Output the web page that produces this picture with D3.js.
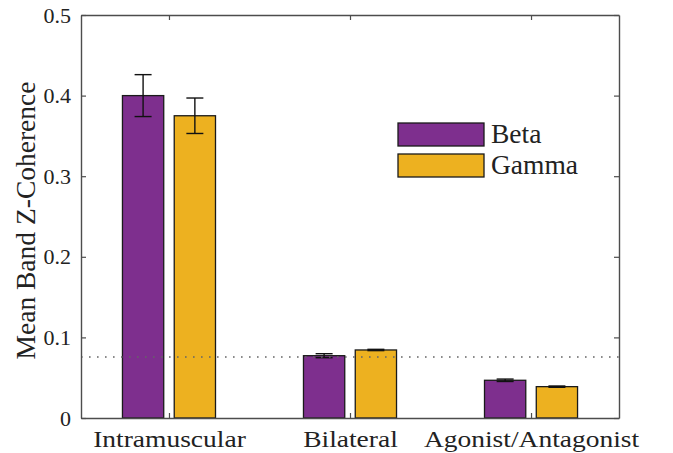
<!DOCTYPE html>
<html>
<head>
<meta charset="utf-8">
<script src="https://cdn.jsdelivr.net/npm/d3@7"></script>
<style>
  html, body { margin: 0; padding: 0; background: #fff; }
  svg { display: block; }
  svg text { font-family: "Liberation Serif", "Times New Roman", serif; }
</style>
</head>
<body>
<svg id="chart" width="673" height="453"></svg>
<script>
// Coherence groups and band series
const categories = ["Intramuscular", "Bilateral", "Agonist/Antagonist"];
const seriesNames = ["Beta", "Gamma"];
const betaValues = [0.400, 0.0773, 0.0468];
const gammaValues = [0.375, 0.0844, 0.0389];
const betaErrors = [0.026, 0.0025, 0.0015];
const gammaErrors = [0.022, 0.0008, 0.0008];
const yTicks = [0, 0.1, 0.2, 0.3, 0.4, 0.5];
const thresholdValue = 0.0757;
const yLabel = "Mean Band Z-Coherence";

(function () {
const colors = { Beta: "#7E2F8E", Gamma: "#EDB120" };
const axisColor = "#4d4d4d";
const textColor = "#222";

const svg = d3.select("#chart");
const plotLeft = 81, plotRight = 619, plotTop = 15, plotBottom = 418;

const x = d3.scalePoint().domain(categories).range([plotLeft, plotRight]).padding(0.486);
const y = d3.scaleLinear().domain([0, 0.5]).range([plotBottom, plotTop]);

const step = x.step();
const barW = 0.228 * step;
const offset = { Beta: -0.143 * step, Gamma: 0.143 * step };

const rows = categories.flatMap((c, i) => [
  { cat: c, series: "Beta", value: betaValues[i], err: betaErrors[i] },
  { cat: c, series: "Gamma", value: gammaValues[i], err: gammaErrors[i] }
]);

// Bars
svg.append("g").selectAll("rect").data(rows).join("rect")
  .attr("x", d => x(d.cat) + offset[d.series] - barW / 2)
  .attr("y", d => y(d.value))
  .attr("width", barW)
  .attr("height", d => y(0) - y(d.value))
  .attr("fill", d => colors[d.series])
  .attr("stroke", "#1a1a1a")
  .attr("stroke-width", 1.3);

// Error bars
const capW = 17;
const eb = svg.append("g").attr("stroke", "#111").attr("stroke-width", 1.4);
rows.forEach(d => {
  const cx = x(d.cat) + offset[d.series];
  const y1 = y(d.value + d.err), y2 = y(d.value - d.err);
  eb.append("line").attr("x1", cx).attr("x2", cx).attr("y1", y1).attr("y2", y2);
  eb.append("line").attr("x1", cx - capW / 2).attr("x2", cx + capW / 2).attr("y1", y1).attr("y2", y1);
  eb.append("line").attr("x1", cx - capW / 2).attr("x2", cx + capW / 2).attr("y1", y2).attr("y2", y2);
});

// Dotted reference line
svg.append("line")
  .attr("x1", plotLeft).attr("x2", plotRight)
  .attr("y1", y(thresholdValue)).attr("y2", y(thresholdValue))
  .attr("stroke", "#666").attr("stroke-width", 1.6)
  .attr("stroke-dasharray", "1.6,6.4");

// Axes (inward ticks on all four sides, box on)
const tickLen = 5;
const yAxisL = d3.axisLeft(y).tickValues(yTicks).tickSizeInner(-tickLen).tickSizeOuter(0).tickPadding(10)
  .tickFormat(d => d === 0 ? "0" : d3.format(".1f")(d));
const yAxisR = d3.axisRight(y).tickValues(yTicks).tickSizeInner(-tickLen).tickSizeOuter(0).tickFormat("");
const xAxisB = d3.axisBottom(x).tickSizeInner(-tickLen).tickSizeOuter(0);
const xAxisT = d3.axisTop(x).tickSizeInner(-tickLen).tickSizeOuter(0).tickFormat("");

function styleAxis(g) {
  g.attr("font-family", null);
  g.select(".domain").attr("stroke", axisColor).attr("stroke-width", 1.4);
  g.selectAll(".tick line").attr("stroke", axisColor).attr("stroke-width", 1.2);
  g.selectAll("text").attr("fill", textColor);
}

svg.append("g").attr("transform", `translate(${plotLeft},0)`).call(yAxisL).call(styleAxis)
  .selectAll("text").attr("font-size", 22);
svg.append("g").attr("transform", `translate(${plotRight},0)`).call(yAxisR).call(styleAxis);
svg.append("g").attr("transform", `translate(0,${plotBottom})`).call(xAxisB).call(styleAxis)
  .selectAll("text")
  .attr("font-size", 27.5)
  .attr("y", 0).attr("dy", 0)
  .attr("transform", "translate(0,28.7) scale(1,0.84)");
svg.append("g").attr("transform", `translate(0,${plotTop})`).call(xAxisT).call(styleAxis);

// Y axis title
svg.append("text")
  .attr("transform", `translate(35,${(plotTop + plotBottom) / 2 + 4}) rotate(-90)`)
  .attr("text-anchor", "middle")
  .attr("font-size", 27.5)
  .attr("fill", textColor)
  .text(yLabel);

// Legend
const legend = svg.append("g").attr("transform", "translate(398,123)");
seriesNames.forEach((s, i) => {
  const g = legend.append("g").attr("transform", `translate(0,${i * 31})`);
  g.append("rect").attr("width", 86).attr("height", 23)
    .attr("fill", colors[s]).attr("stroke", "#1a1a1a").attr("stroke-width", 1.3);
  g.append("text").attr("x", 93).attr("y", 20)
    .attr("font-size", 27.5).attr("fill", textColor).text(s);
});
})();
</script>
</body>
</html>
